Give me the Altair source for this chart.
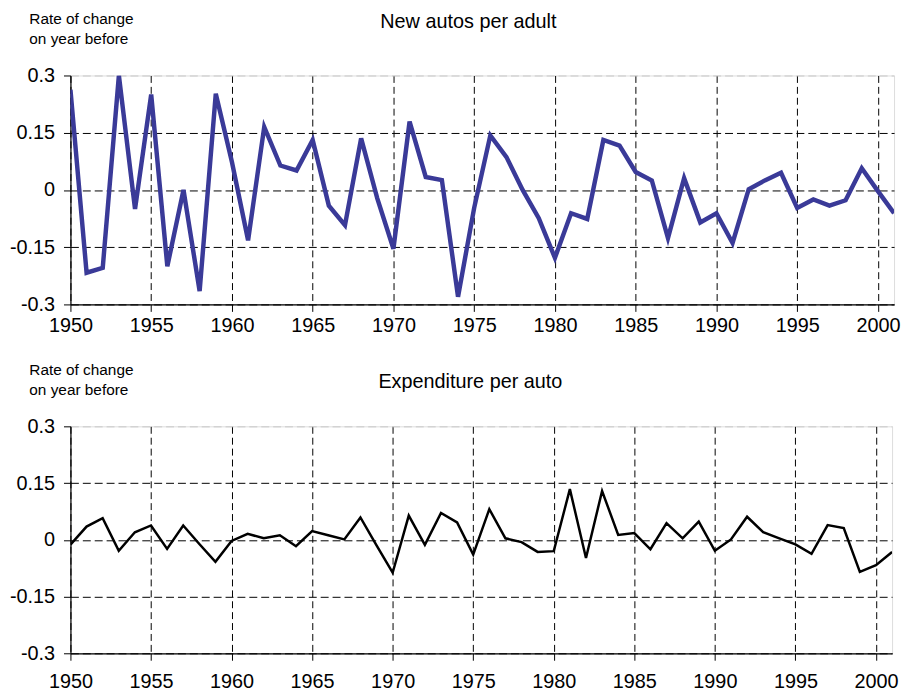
import altair as alt
import pandas as pd

years = list(range(1950, 2002))

autos_per_adult = [
    0.263, -0.217, -0.204, 0.300, -0.050, 0.250, -0.200, 0.000, -0.265, 0.252,
    0.073, -0.132, 0.165, 0.064, 0.051, 0.131, -0.041, -0.092, 0.135, -0.022,
    -0.154, 0.179, 0.034, 0.026, -0.280, -0.047, 0.143, 0.086, 0.000, -0.074,
    -0.178, -0.061, -0.076, 0.131, 0.116, 0.047, 0.025, -0.126, 0.031, -0.085,
    -0.061, -0.139, 0.002, 0.025, 0.045, -0.047, -0.025, -0.041, -0.027, 0.057,
    -0.003, -0.061,
]

expenditure_per_auto = [
    -0.013, 0.035, 0.057, -0.029, 0.020, 0.038, -0.024, 0.038, -0.011, -0.058,
    -0.003, 0.016, 0.004, 0.012, -0.017, 0.023, 0.012, 0.001, 0.059, -0.015,
    -0.087, 0.064, -0.013, 0.071, 0.046, -0.039, 0.081, 0.004, -0.006, -0.032,
    -0.030, 0.134, -0.048, 0.129, 0.013, 0.018, -0.025, 0.044, 0.004, 0.048,
    -0.029, 0.001, 0.061, 0.020, 0.004, -0.012, -0.037, 0.039, 0.031, -0.085,
    -0.067, -0.032,
]

x_ticks = [1950, 1955, 1960, 1965, 1970, 1975, 1980, 1985, 1990, 1995, 2000]
y_ticks = [-0.3, -0.15, 0, 0.15, 0.3]
y_axis_title = ["Rate of change", "on year before"]

FONT = "Liberation Sans"

grid_color = {"condition": {"test": "datum.value >= 0.29", "value": "#c8c8c8"}, "value": "#000000"}


def panel(values, title, color, stroke_w, w, h, title_dx, title_offset, axis_title_y, x_label_pad):
    df = pd.DataFrame({"year": years, "rate": values})
    return (
        alt.Chart(df)
        .mark_line(color=color, strokeWidth=stroke_w, clip=True)
        .encode(
            x=alt.X(
                "year:Q",
                scale=alt.Scale(domain=[1950, 2001], nice=False, zero=False),
                axis=alt.Axis(
                    values=x_ticks, format="d", title=None,
                    labelFontSize=20, labelFont=FONT, labelColor="#000000",
                    labelPadding=x_label_pad, tickSize=7, tickColor="#000000",
                    domainColor="#000000", domainWidth=1.2,
                    grid=True, gridColor="#000000", gridDash=[7, 4], gridWidth=1,
                    labelFlush=False, labelOverlap=False,
                ),
            ),
            y=alt.Y(
                "rate:Q",
                scale=alt.Scale(domain=[-0.3, 0.3], nice=False, zero=False),
                axis=alt.Axis(
                    values=y_ticks, labelExpr="'' + datum.value",
                    title=y_axis_title, titleAngle=0, titleAlign="left",
                    titleBaseline="top", titleX=-42, titleY=axis_title_y,
                    titleFontSize=15.5, titleFont=FONT, titleFontWeight="normal",
                    titleLineHeight=20, titleColor="#000000",
                    labelFontSize=20, labelFont=FONT, labelColor="#000000",
                    labelPadding=9, tickSize=7, tickColor="#000000",
                    domainColor="#000000", domainWidth=1.2,
                    grid=True, gridColor=grid_color, gridDash=[8, 4], gridWidth=1,
                    labelFlush=False, labelOverlap=False,
                ),
            ),
        )
        .properties(
            width=w,
            height=h,
            title=alt.TitleParams(
                title, fontSize=20, font=FONT, fontWeight="normal", color="#000000",
                anchor="middle", frame="group", dx=title_dx, offset=title_offset,
            ),
        )
    )


top = panel(autos_per_adult, "New autos per adult", "#3a3a98", 4.5, 831, 231, -14, -20, -64, 4)
bottom = panel(expenditure_per_auto, "Expenditure per auto", "#000000", 2.5, 829, 229, -11, -29, -64, 12)

chart = (
    alt.vconcat(top, bottom, spacing=26)
    .properties(padding=0)
    .configure_view(stroke=None)
    .configure(font=FONT)
)

chart.save("out.html", embed_options={"renderer": "svg", "actions": False})
